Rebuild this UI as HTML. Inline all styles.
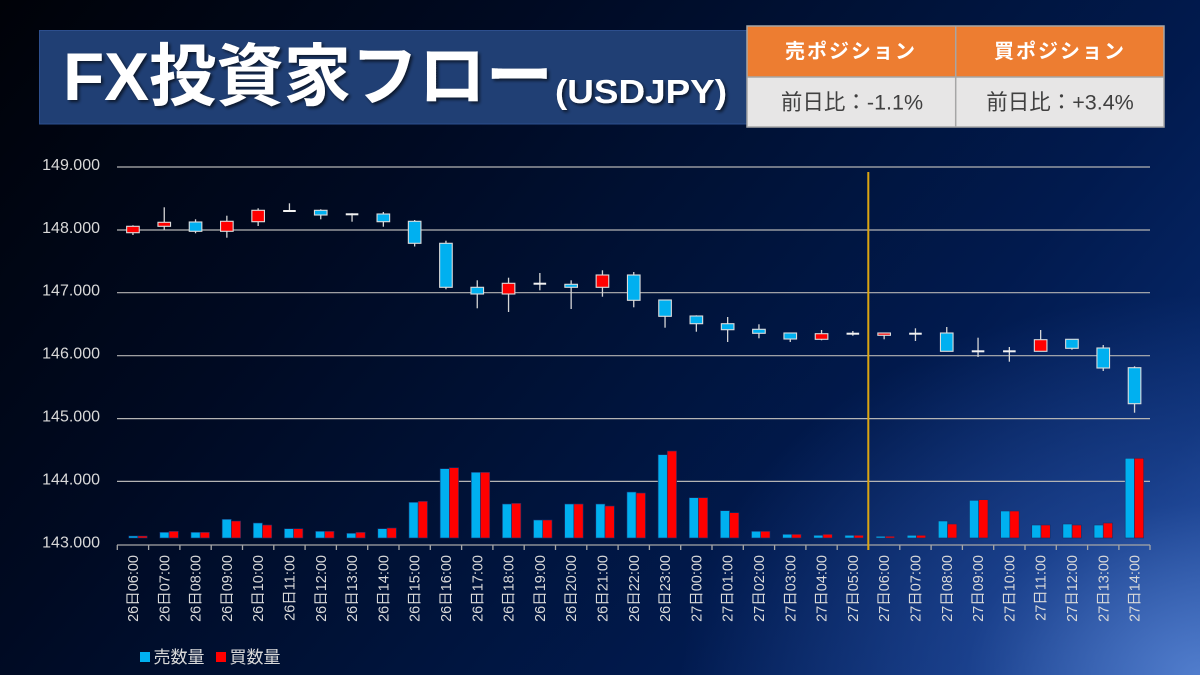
<!DOCTYPE html>
<html>
<head>
<meta charset="utf-8">
<style>
html,body{margin:0;padding:0;width:1200px;height:675px;overflow:hidden;}
body{
background:
 radial-gradient(ellipse 520px 380px at 1200px 675px, rgba(90,135,215,0.85) 0%, rgba(50,95,185,0.45) 45%, rgba(20,50,130,0) 100%),
 linear-gradient(130deg, #000208 0%, #000a22 30%, #001237 50%, #011a4e 70%, #07286a 88%, #1d4592 100%);
}
svg{position:absolute;left:0;top:0;}
text{font-family:"Liberation Sans","Noto Sans CJK JP",sans-serif;}
</style>
</head>
<body>
<svg width="1200" height="675" viewBox="0 0 1200 675" xmlns="http://www.w3.org/2000/svg">
<defs>
<filter id="sh" x="-5%" y="-20%" width="110%" height="150%">
<feDropShadow dx="2" dy="2" stdDeviation="1.5" flood-color="#000" flood-opacity="0.65"/>
</filter>
</defs>

<!-- Title box -->
<rect x="39.5" y="30.5" width="708" height="93.5" fill="#203f74" stroke="#2d4f8e" stroke-width="1"/>
<g filter="url(#sh)" fill="#ffffff" font-weight="bold">
<text x="63" y="100" font-size="68" textLength="490" lengthAdjust="spacingAndGlyphs">FX投資家フロー</text>
<text x="555" y="103" font-size="33" textLength="172" lengthAdjust="spacingAndGlyphs">(USDJPY)</text>
</g>

<!-- Table -->
<rect x="747" y="26" width="417" height="51" fill="#ed7d31"/>
<rect x="747" y="77" width="417" height="50" fill="#e7e6e6"/>
<rect x="747" y="26" width="417" height="101" fill="none" stroke="#a6a6a6" stroke-width="1.5"/>
<line x1="747" y1="77" x2="1164" y2="77" stroke="#a6a6a6" stroke-width="1.5"/>
<line x1="955.7" y1="26" x2="955.7" y2="127" stroke="#a6a6a6" stroke-width="1.5"/>
<text x="851" y="58" font-size="20" font-weight="bold" fill="#ffffff" text-anchor="middle" letter-spacing="2">売ポジション</text>
<text x="1060" y="58" font-size="20" font-weight="bold" fill="#ffffff" text-anchor="middle" letter-spacing="2">買ポジション</text>
<text x="852" y="109.5" font-size="21.5" fill="#404040" text-anchor="middle">前日比：-1.1%</text>
<text x="1060" y="109.5" font-size="21.5" fill="#404040" text-anchor="middle">前日比：+3.4%</text>

<!-- Y labels -->
<g font-size="16" fill="#d9d9d9" text-anchor="end">
<text x="100" y="170">149.000</text>
<text x="100" y="233">148.000</text>
<text x="100" y="295.7">147.000</text>
<text x="100" y="358.7">146.000</text>
<text x="100" y="421.6">145.000</text>
<text x="100" y="484.4">144.000</text>
<text x="100" y="547.3">143.000</text>
</g>

<!-- Gridlines -->
<g stroke="#b4b4b4" stroke-width="1.2">
<line x1="117" y1="167" x2="1150" y2="167"/>
<line x1="117" y1="230" x2="1150" y2="230"/>
<line x1="117" y1="292.7" x2="1150" y2="292.7"/>
<line x1="117" y1="355.7" x2="1150" y2="355.7"/>
<line x1="117" y1="418.6" x2="1150" y2="418.6"/>
<line x1="117" y1="481.4" x2="1150" y2="481.4"/>
</g>

<!-- Volume bars -->
<g stroke="#17306a" stroke-width="0.6">
<g fill="#00b0f0">
<rect x="128.7" y="536" width="9.2" height="2"/>
<rect x="159.84" y="532.3" width="9.2" height="5.7"/>
<rect x="190.98" y="532.3" width="9.2" height="5.7"/>
<rect x="222.12" y="519.3" width="9.2" height="18.7"/>
<rect x="253.26" y="523" width="9.2" height="15"/>
<rect x="284.4" y="528.7" width="9.2" height="9.3"/>
<rect x="315.54" y="531.3" width="9.2" height="6.7"/>
<rect x="346.68" y="533.3" width="9.2" height="4.7"/>
<rect x="377.82" y="528.7" width="9.2" height="9.3"/>
<rect x="408.96" y="502.3" width="9.2" height="35.7"/>
<rect x="440.1" y="468.7" width="9.2" height="69.3"/>
<rect x="471.24" y="472.3" width="9.2" height="65.7"/>
<rect x="502.38" y="504" width="9.2" height="34"/>
<rect x="533.52" y="520" width="9.2" height="18"/>
<rect x="564.66" y="504" width="9.2" height="34"/>
<rect x="595.8" y="504" width="9.2" height="34"/>
<rect x="626.94" y="492" width="9.2" height="46"/>
<rect x="658.08" y="454.7" width="9.2" height="83.3"/>
<rect x="689.22" y="497.7" width="9.2" height="40.3"/>
<rect x="720.36" y="510.7" width="9.2" height="27.3"/>
<rect x="751.5" y="531.3" width="9.2" height="6.7"/>
<rect x="782.64" y="534.3" width="9.2" height="3.7"/>
<rect x="813.78" y="535.3" width="9.2" height="2.7"/>
<rect x="844.92" y="535.3" width="9.2" height="2.7"/>
<rect x="876.06" y="536.3" width="9.2" height="1.7"/>
<rect x="907.2" y="535.3" width="9.2" height="2.7"/>
<rect x="938.34" y="521" width="9.2" height="17"/>
<rect x="969.48" y="500.3" width="9.2" height="37.7"/>
<rect x="1000.62" y="511" width="9.2" height="27"/>
<rect x="1031.76" y="525" width="9.2" height="13"/>
<rect x="1062.9" y="524" width="9.2" height="14"/>
<rect x="1094.04" y="525" width="9.2" height="13"/>
<rect x="1125.18" y="458.3" width="9.2" height="79.7"/>
</g>
<g fill="#ff0000">
<rect x="137.9" y="536" width="9.3" height="2"/>
<rect x="169.04" y="531.3" width="9.3" height="6.7"/>
<rect x="200.18" y="532.3" width="9.3" height="5.7"/>
<rect x="231.32" y="521" width="9.3" height="17"/>
<rect x="262.46" y="525" width="9.3" height="13"/>
<rect x="293.6" y="528.7" width="9.3" height="9.3"/>
<rect x="324.74" y="531.3" width="9.3" height="6.7"/>
<rect x="355.88" y="532.3" width="9.3" height="5.7"/>
<rect x="387.02" y="528" width="9.3" height="10"/>
<rect x="418.16" y="501.3" width="9.3" height="36.7"/>
<rect x="449.3" y="467.7" width="9.3" height="70.3"/>
<rect x="480.44" y="472.3" width="9.3" height="65.7"/>
<rect x="511.58" y="503.3" width="9.3" height="34.7"/>
<rect x="542.72" y="520" width="9.3" height="18"/>
<rect x="573.86" y="504" width="9.3" height="34"/>
<rect x="605" y="506" width="9.3" height="32"/>
<rect x="636.14" y="493" width="9.3" height="45"/>
<rect x="667.28" y="451" width="9.3" height="87"/>
<rect x="698.42" y="497.7" width="9.3" height="40.3"/>
<rect x="729.56" y="512.7" width="9.3" height="25.3"/>
<rect x="760.7" y="531.3" width="9.3" height="6.7"/>
<rect x="791.84" y="534.3" width="9.3" height="3.7"/>
<rect x="822.98" y="534.3" width="9.3" height="3.7"/>
<rect x="854.12" y="535.3" width="9.3" height="2.7"/>
<rect x="885.26" y="536.3" width="9.3" height="1.7"/>
<rect x="916.4" y="535.3" width="9.3" height="2.7"/>
<rect x="947.54" y="524" width="9.3" height="14"/>
<rect x="978.68" y="499.7" width="9.3" height="38.3"/>
<rect x="1009.82" y="511" width="9.3" height="27"/>
<rect x="1040.96" y="525" width="9.3" height="13"/>
<rect x="1072.1" y="525" width="9.3" height="13"/>
<rect x="1103.24" y="523" width="9.3" height="15"/>
<rect x="1134.38" y="458.3" width="9.3" height="79.7"/>
</g>
</g>

<!-- Wicks -->
<g stroke="#d6d6d6" stroke-width="1.3">
<line x1="132.95" y1="225.3" x2="132.95" y2="235"/>
<line x1="164.25" y1="207.3" x2="164.25" y2="230"/>
<line x1="195.55" y1="219.3" x2="195.55" y2="233.3"/>
<line x1="226.85" y1="215.7" x2="226.85" y2="237.7"/>
<line x1="258.15" y1="208.3" x2="258.15" y2="226"/>
<line x1="289.45" y1="203.3" x2="289.45" y2="211"/>
<line x1="320.75" y1="209.3" x2="320.75" y2="219.3"/>
<line x1="352.05" y1="213.3" x2="352.05" y2="221.7"/>
<line x1="383.35" y1="212" x2="383.35" y2="226.7"/>
<line x1="414.65" y1="220" x2="414.65" y2="246.5"/>
<line x1="445.95" y1="240.7" x2="445.95" y2="289.3"/>
<line x1="477.25" y1="280.3" x2="477.25" y2="308.3"/>
<line x1="508.55" y1="277.7" x2="508.55" y2="312"/>
<line x1="539.85" y1="273" x2="539.85" y2="290.3"/>
<line x1="571.15" y1="280.3" x2="571.15" y2="309"/>
<line x1="602.45" y1="270.3" x2="602.45" y2="296.7"/>
<line x1="633.75" y1="272" x2="633.75" y2="307.3"/>
<line x1="665.05" y1="300" x2="665.05" y2="327.7"/>
<line x1="696.35" y1="315.3" x2="696.35" y2="331.7"/>
<line x1="727.65" y1="317" x2="727.65" y2="342"/>
<line x1="758.95" y1="324.3" x2="758.95" y2="338.3"/>
<line x1="790.25" y1="333" x2="790.25" y2="342"/>
<line x1="821.55" y1="330" x2="821.55" y2="340.3"/>
<line x1="852.85" y1="331" x2="852.85" y2="335.7"/>
<line x1="884.15" y1="333" x2="884.15" y2="339.3"/>
<line x1="915.45" y1="328.3" x2="915.45" y2="341"/>
<line x1="946.75" y1="327" x2="946.75" y2="351.3"/>
<line x1="978.05" y1="337.7" x2="978.05" y2="357"/>
<line x1="1009.35" y1="347" x2="1009.35" y2="361.7"/>
<line x1="1040.65" y1="330" x2="1040.65" y2="351.3"/>
<line x1="1071.95" y1="339.3" x2="1071.95" y2="349.7"/>
<line x1="1103.25" y1="345" x2="1103.25" y2="371"/>
<line x1="1134.55" y1="366.3" x2="1134.55" y2="412.7"/>
</g>

<!-- Candle bodies -->
<g stroke="#dcdcdc" stroke-width="1.1">
<g fill="#ff0000">
<rect x="126.65" y="226.3" width="12.6" height="6.4"/>
<rect x="157.95" y="222.3" width="12.6" height="4"/>
<rect x="220.55" y="221.3" width="12.6" height="10"/>
<rect x="251.85" y="210.3" width="12.6" height="11.4"/>
<rect x="502.25" y="283.3" width="12.6" height="10.7"/>
<rect x="596.15" y="275" width="12.6" height="12.3"/>
<rect x="815.25" y="333.7" width="12.6" height="5.6"/>
<rect x="877.85" y="333" width="12.6" height="2.3"/>
<rect x="1034.35" y="339.7" width="12.6" height="11.6"/>
</g>
<g fill="#00b0f0">
<rect x="189.25" y="222" width="12.6" height="9.3"/>
<rect x="314.45" y="210.3" width="12.6" height="4.7"/>
<rect x="377.05" y="214" width="12.6" height="7.7"/>
<rect x="408.35" y="221.3" width="12.6" height="22"/>
<rect x="439.65" y="243.3" width="12.6" height="44"/>
<rect x="470.95" y="287.3" width="12.6" height="6.7"/>
<rect x="564.85" y="284.3" width="12.6" height="3"/>
<rect x="627.45" y="275" width="12.6" height="25.3"/>
<rect x="658.75" y="300" width="12.6" height="16.3"/>
<rect x="690.05" y="316" width="12.6" height="7.7"/>
<rect x="721.35" y="323.7" width="12.6" height="6"/>
<rect x="752.65" y="329.3" width="12.6" height="4"/>
<rect x="783.95" y="333" width="12.6" height="6"/>
<rect x="940.45" y="333" width="12.6" height="18.3"/>
<rect x="1065.65" y="339.3" width="12.6" height="9"/>
<rect x="1096.95" y="348" width="12.6" height="20"/>
<rect x="1128.25" y="367.7" width="12.6" height="36"/>
</g>
</g>
<!-- Doji -->
<g stroke="#f2f2f2" stroke-width="2">
<line x1="283.15" y1="211" x2="295.75" y2="211"/>
<line x1="345.75" y1="214.3" x2="358.35" y2="214.3"/>
<line x1="533.55" y1="283.7" x2="546.15" y2="283.7"/>
<line x1="846.55" y1="333.7" x2="859.15" y2="333.7"/>
<line x1="909.15" y1="333.7" x2="921.75" y2="333.7"/>
<line x1="971.75" y1="351.3" x2="984.35" y2="351.3"/>
<line x1="1003.05" y1="351.3" x2="1015.65" y2="351.3"/>
</g>

<!-- X axis -->
<g stroke="#a6a6a6" stroke-width="1.3">
<line x1="117" y1="545" x2="1150" y2="545"/>
<path d="M117.3 545v5M148.6 545v5M179.9 545v5M211.2 545v5M242.5 545v5M273.8 545v5M305.1 545v5M336.4 545v5M367.7 545v5M399 545v5M430.3 545v5M461.6 545v5M492.9 545v5M524.2 545v5M555.5 545v5M586.8 545v5M618.1 545v5M649.4 545v5M680.7 545v5M712 545v5M743.3 545v5M774.6 545v5M805.9 545v5M837.2 545v5M868.5 545v5M899.8 545v5M931.1 545v5M962.4 545v5M993.7 545v5M1025 545v5M1056.3 545v5M1087.6 545v5M1118.9 545v5M1150 545v5"/>
</g>

<!-- Orange separator -->
<line x1="868.3" y1="172" x2="868.3" y2="550" stroke="#dca512" stroke-width="2"/>

<!-- X labels -->
<g font-size="14.5" fill="#d9d9d9" text-anchor="end">
<text transform="translate(132.95,555) rotate(-90)" dy="0.35em">26日06:00</text>
<text transform="translate(164.25,555) rotate(-90)" dy="0.35em">26日07:00</text>
<text transform="translate(195.55,555) rotate(-90)" dy="0.35em">26日08:00</text>
<text transform="translate(226.85,555) rotate(-90)" dy="0.35em">26日09:00</text>
<text transform="translate(258.15,555) rotate(-90)" dy="0.35em">26日10:00</text>
<text transform="translate(289.45,555) rotate(-90)" dy="0.35em">26日11:00</text>
<text transform="translate(320.75,555) rotate(-90)" dy="0.35em">26日12:00</text>
<text transform="translate(352.05,555) rotate(-90)" dy="0.35em">26日13:00</text>
<text transform="translate(383.35,555) rotate(-90)" dy="0.35em">26日14:00</text>
<text transform="translate(414.65,555) rotate(-90)" dy="0.35em">26日15:00</text>
<text transform="translate(445.95,555) rotate(-90)" dy="0.35em">26日16:00</text>
<text transform="translate(477.25,555) rotate(-90)" dy="0.35em">26日17:00</text>
<text transform="translate(508.55,555) rotate(-90)" dy="0.35em">26日18:00</text>
<text transform="translate(539.85,555) rotate(-90)" dy="0.35em">26日19:00</text>
<text transform="translate(571.15,555) rotate(-90)" dy="0.35em">26日20:00</text>
<text transform="translate(602.45,555) rotate(-90)" dy="0.35em">26日21:00</text>
<text transform="translate(633.75,555) rotate(-90)" dy="0.35em">26日22:00</text>
<text transform="translate(665.05,555) rotate(-90)" dy="0.35em">26日23:00</text>
<text transform="translate(696.35,555) rotate(-90)" dy="0.35em">27日00:00</text>
<text transform="translate(727.65,555) rotate(-90)" dy="0.35em">27日01:00</text>
<text transform="translate(758.95,555) rotate(-90)" dy="0.35em">27日02:00</text>
<text transform="translate(790.25,555) rotate(-90)" dy="0.35em">27日03:00</text>
<text transform="translate(821.55,555) rotate(-90)" dy="0.35em">27日04:00</text>
<text transform="translate(852.85,555) rotate(-90)" dy="0.35em">27日05:00</text>
<text transform="translate(884.15,555) rotate(-90)" dy="0.35em">27日06:00</text>
<text transform="translate(915.45,555) rotate(-90)" dy="0.35em">27日07:00</text>
<text transform="translate(946.75,555) rotate(-90)" dy="0.35em">27日08:00</text>
<text transform="translate(978.05,555) rotate(-90)" dy="0.35em">27日09:00</text>
<text transform="translate(1009.35,555) rotate(-90)" dy="0.35em">27日10:00</text>
<text transform="translate(1040.65,555) rotate(-90)" dy="0.35em">27日11:00</text>
<text transform="translate(1071.95,555) rotate(-90)" dy="0.35em">27日12:00</text>
<text transform="translate(1103.25,555) rotate(-90)" dy="0.35em">27日13:00</text>
<text transform="translate(1134.55,555) rotate(-90)" dy="0.35em">27日14:00</text>
</g>

<!-- Legend -->
<rect x="140" y="652" width="10" height="10" fill="#00b0f0"/>
<text x="153.5" y="663" font-size="17" fill="#d9d9d9">売数量</text>
<rect x="216" y="652" width="10" height="10" fill="#ff0000"/>
<text x="229.5" y="663" font-size="17" fill="#d9d9d9">買数量</text>
</svg>
</body>
</html>
